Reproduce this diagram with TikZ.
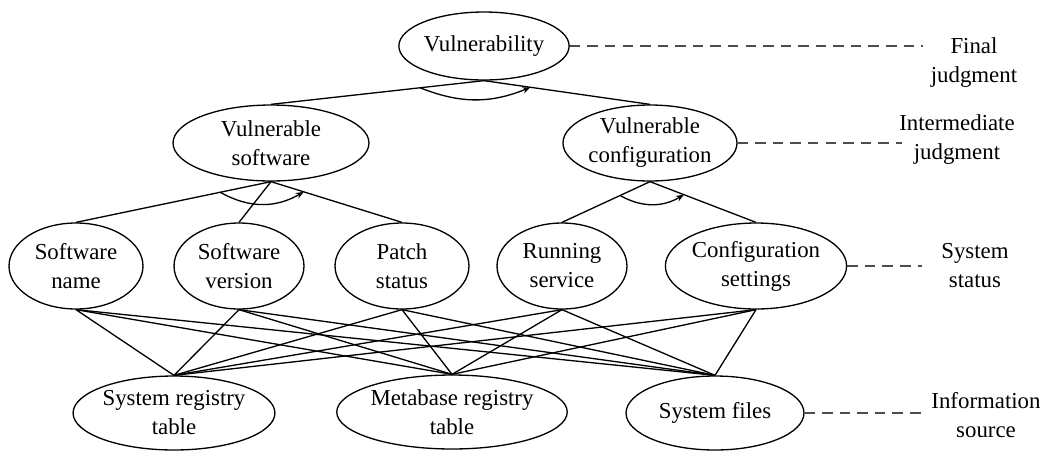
\documentclass[tikz,border=0pt]{standalone}
\usepackage{fontspec}
\setmainfont{Liberation Serif}
\usetikzlibrary{arrows.meta, shapes.geometric, calc}

\begin{document}
\begin{tikzpicture}[
    x=0.02cm, y=-0.02cm,
    factor/.style={ellipse, draw=black, line width=0.75pt, inner sep=0pt, align=center, font=\fontsize{13}{16.5}\selectfont},
    level/.style={align=center, inner sep=0pt, font=\fontsize{13}{16.5}\selectfont},
    edge/.style={draw=black, line width=0.75pt},
    relation/.style={->, >={Stealth[length=4.5pt, width=3.5pt]}, line width=0.75pt, draw=black},
    tier/.style={dash pattern=on 6pt off 4pt, line width=0.75pt, draw=black!70}
]
    \useasboundingbox (0,0) rectangle (1042,451);

    % Define Nodes
    \node[factor, minimum width=3.28cm, minimum height=1.36cm] (vul) at (484,46) {Vulnerability};

    \node[factor, minimum width=3.92cm, minimum height=1.52cm] (vsw) at (271,143) {Vulnerable\\software};
    \node[factor, minimum width=3.48cm, minimum height=1.52cm] (vcf) at (650,143) {Vulnerable\\configuration};

    \node[factor, minimum width=2.68cm, minimum height=1.72cm] (swn) at (76,266)  {Software\\name};
    \node[factor, minimum width=2.6cm,  minimum height=1.72cm] (swv) at (239,266) {Software\\version};
    \node[factor, minimum width=2.68cm, minimum height=1.72cm] (pst) at (402,266) {Patch\\status};
    \node[factor, minimum width=2.6cm,  minimum height=1.72cm] (rsv) at (562,266) {Running\\service};
    \node[factor, minimum width=3.6cm,  minimum height=1.72cm] (cfs) at (756,266) {Configuration\\settings};

    \node[factor, minimum width=3.96cm, minimum height=1.48cm] (srt) at (174,413) {System registry\\table};
    \node[factor, minimum width=4.6cm,  minimum height=1.48cm] (mrt) at (452,412) {Metabase registry\\table};
    \node[factor, minimum width=3.56cm, minimum height=1.48cm] (sfl) at (715,413) {System files};

    % Level labels
    \node[level] (lfin) at (974,63)  {Final\\judgment};
    \node[level] (lint) at (957,140) {Intermediate\\judgment};
    \node[level] (lsys) at (975,266) {System\\status};
    \node[level] (linf) at (986,415) {Information\\source};

    \coordinate (efin) at (923,46);
    \coordinate (eint) at (902,143);
    \coordinate (esys) at (922,266);
    \coordinate (einf) at (925,413);

    % Draw Edges
    \draw[edge] (vul.south) -- (vsw.north);
    \draw[edge] (vul.south) -- (vcf.north);
    \draw[edge] (vsw.south) -- (swn.north);
    \draw[edge] (vsw.south) -- (swv.north);
    \draw[edge] (vsw.south) -- (pst.north);
    \draw[edge] (vcf.south) -- (rsv.north);
    \draw[edge] (vcf.south) -- (cfs.north);
    \foreach \a in {swn,swv,pst,rsv,cfs}
        \foreach \b in {srt,mrt,sfl}
            \draw[edge] (\a.south) -- (\b.north);

    % Combination arcs
    \draw[relation] ($(vul.south)!0.3!(vsw.north)$) to[bend right=22] ($(vul.south)!0.28!(vcf.north)$);
    \draw[relation] ($(vsw.south)!0.26!(swn.north)$) to[bend right=30] ($(vsw.south)!0.25!(pst.north)$);
    \draw[relation] ($(vcf.south)!0.34!(rsv.north)$) to[bend right=30] ($(vcf.south)!0.32!(cfs.north)$);

    % Dashed level markers
    \draw[tier] (vul.east) -- (efin);
    \draw[tier] (vcf.east) -- (eint);
    \draw[tier] (cfs.east) -- (esys);
    \draw[tier] (sfl.east) -- (einf);
\end{tikzpicture}
\end{document}
